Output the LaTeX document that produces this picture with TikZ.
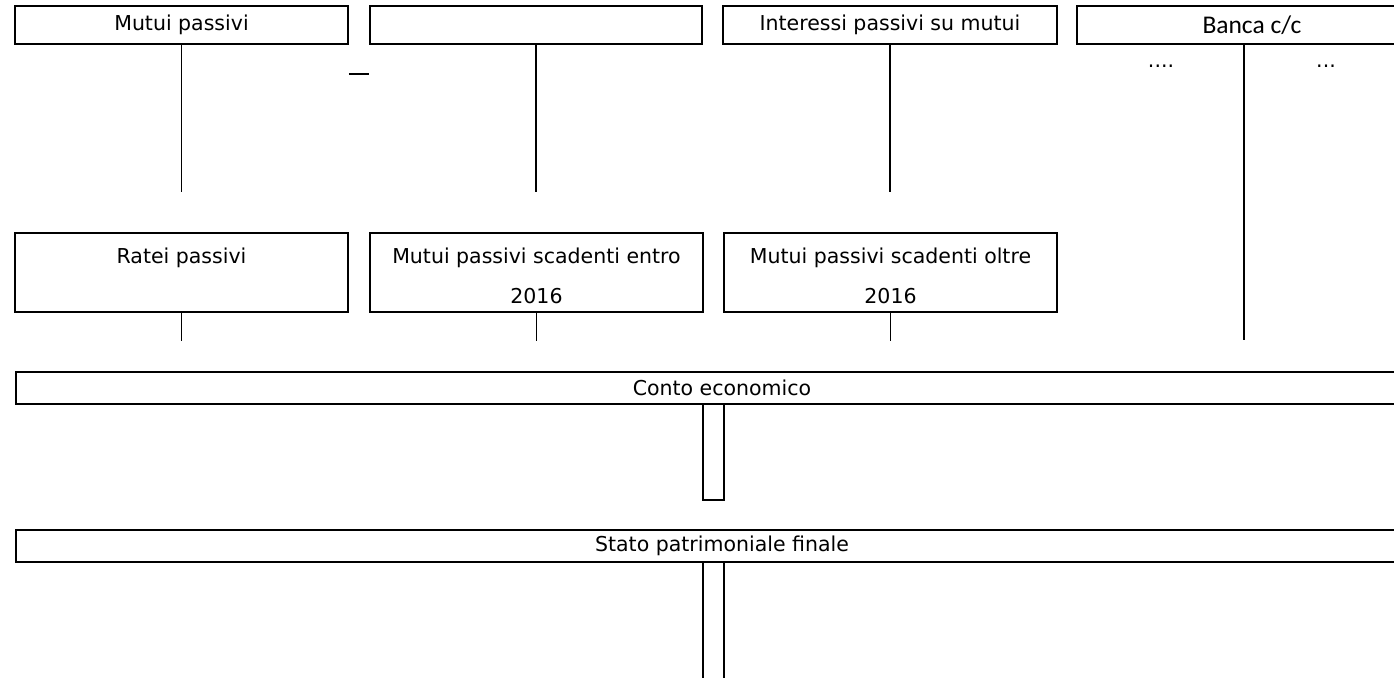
\documentclass[tikz,border=0pt]{standalone}
\usepackage{fontspec}
\setmainfont{DejaVu Sans}
\newfontfamily\carlito{Carlito}
\usetikzlibrary{positioning}

\begin{document}
\begin{tikzpicture}[x=1pt,y=-1pt,
    conto/.style={draw,black,line width=1.9pt,inner sep=0pt,minimum width=333pt,
                  minimum height=38pt,align=center,font=\fontsize{20.5}{40}\selectfont},
    doppio/.style={conto,minimum height=79pt},
    riga/.style={line width=1.9pt},
    punti/.style={anchor=base,inner sep=0pt,font=\fontsize{20.5}{24}\selectfont}]
    \useasboundingbox (0,0) rectangle (1394,677);
    \clip (0,0) rectangle (1394,677);
    % prima riga di conti
    \node[conto] (mutui) at (181.5,25) {Mutui passivi};
    \node[conto,minimum width=332pt] (vuoto) at (536,25) {};
    \node[conto,minimum width=334pt] (interessi) at (890,25) {Interessi passivi su mutui};
    \node[conto,minimum width=350pt,font=\carlito\fontsize{25.5}{30}\selectfont] (banca) at (1252,25) {Banca c/c};
    \node[punti] (puntisx) at (1161,67) {....};
    \node[punti] (puntidx) at (1326,67) {...};
    \coordinate (trattino) at (0,74);
    \coordinate (bancafondo) at (1244,340);
    \foreach \n in {mutui,vuoto,interessi}
        \draw[riga] (\n.south) -- ++(0,147);
    \draw[riga] (mutui.east |- trattino) -- (vuoto.west |- trattino);
    \draw[riga] (banca.south -| bancafondo) -- (bancafondo);
    % seconda riga
    \node[doppio] (ratei) at (181.5,272.5) {\rule{0pt}{22.6pt}Ratei passivi\\\phantom{2016}};
    \node[doppio] (entro) at (536.5,272.5) {\rule{0pt}{22.6pt}Mutui passivi scadenti entro\\2016};
    \node[doppio] (oltre) at (890.5,272.5) {\rule{0pt}{22.6pt}Mutui passivi scadenti oltre\\2016};
    \foreach \n in {ratei,entro,oltre}
        \draw[riga] (\n.south) -- ++(0,28);
    % conto economico e stato patrimoniale
    \node[conto,minimum width=1412pt,minimum height=32pt] (economico) at (722,388) {Conto economico};
    \node[conto,minimum width=1412pt,minimum height=32pt] (stato) at (722,546) {Stato patrimoniale finale};
    \coordinate (sx) at (703,0);
    \coordinate (dx) at (724,0);
    \draw[riga] (economico.south -| sx) -- ++(0,95) -| (economico.south -| dx);
    \draw[riga] (stato.south -| sx) -- ++(0,115);
    \draw[riga] (stato.south -| dx) -- ++(0,115);
\end{tikzpicture}
\end{document}
